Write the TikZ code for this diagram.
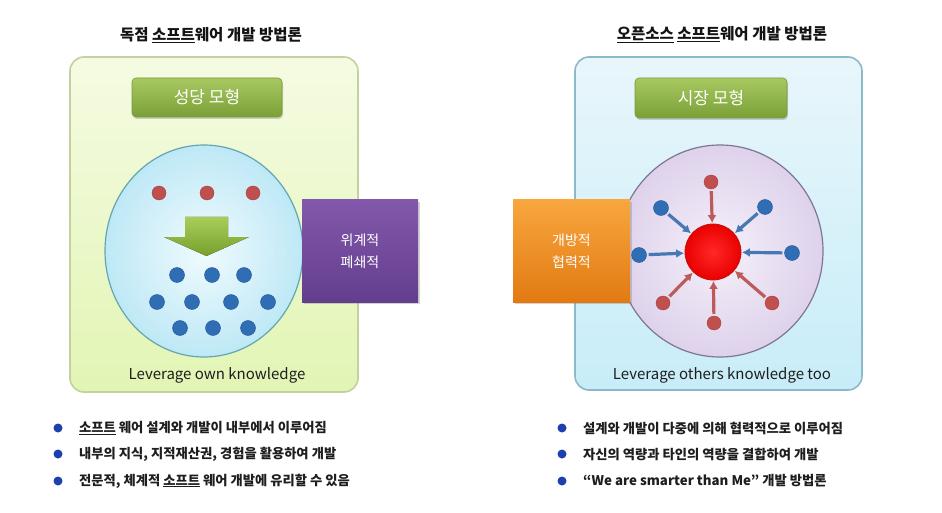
\documentclass[tikz,border=0pt]{standalone}
\usepackage{fontspec}
\setmainfont{Noto Sans CJK KR}
\usetikzlibrary{arrows.meta,shadows,shapes.geometric}
\definecolor{reddot}{HTML}{C0504D}
\definecolor{bluedot}{HTML}{2F6DB5}
\definecolor{bullet}{HTML}{1E3FAE}
\begin{document}
\begin{tikzpicture}[x=1pt,y=-1pt,
  panelL/.style={draw={rgb,255:red,195;green,208;blue,160}, line width=1.6pt, rounded corners=14pt,
    top color={rgb,255:red,245;green,251;blue,226}, bottom color={rgb,255:red,226;green,245;blue,180}},
  panelR/.style={draw={rgb,255:red,140;green,185;blue,200}, line width=1.6pt, rounded corners=14pt,
    top color={rgb,255:red,232;green,246;blue,251}, bottom color={rgb,255:red,200;green,237;blue,248}},
  greenlabel/.style={rounded corners=4pt, draw={rgb,255:red,120;green,155;blue,60}, line width=0.6pt,
    top color={rgb,255:red,168;green,200;blue,96}, bottom color={rgb,255:red,122;green,160;blue,56},
    text=white, font=\fontsize{17}{20}\selectfont, drop shadow={opacity=0.35, shadow xshift=1pt, shadow yshift=-2pt}},
  sidebox/.style={text=white, font=\fontsize{14}{22}\selectfont, align=center,
    drop shadow={opacity=0.35, shadow xshift=2pt, shadow yshift=-2pt}},
  dotR/.style={circle, inner sep=0pt, minimum size=14pt, fill=reddot, draw={rgb,255:red,170;green,60;blue,60}, line width=0.4pt},
  dotB/.style={circle, inner sep=0pt, minimum size=15pt, fill=bluedot, draw={rgb,255:red,35;green,85;blue,150}, line width=0.4pt},
  arrB/.style={draw={rgb,255:red,70;green,120;blue,180}, line width=3.2pt, -{Latex[length=8pt,width=9pt]}, shorten <=2pt, shorten >=0.5pt},
  arrR/.style={draw={rgb,255:red,188;green,92;blue,90}, line width=3.2pt, -{Latex[length=8pt,width=9pt]}, shorten <=2pt, shorten >=0.5pt},
  title/.style={font=\bfseries\fontsize{15.5}{18}\selectfont, text={rgb,255:red,20;green,20;blue,20}},
  caption/.style={font=\fontsize{15}{18}\selectfont, text={rgb,255:red,30;green,30;blue,30}},
  bultext/.style={anchor=west, font=\bfseries\fontsize{13.3}{15}\selectfont, text={rgb,255:red,30;green,30;blue,30}, inner sep=0pt},
  bulletdot/.style={circle, fill=bullet, inner sep=0pt, minimum size=9pt}
]
\useasboundingbox (0,0) rectangle (942,513);
\fill[white] (0,0) rectangle (942,513);

% titles
\node[title] (tl) at (211,35) {독점 \underline{소프트}웨어 개발 방법론};
\node[title] (tr) at (722,35) {\underline{오픈소스} \underline{소프트}웨어 개발 방법론};

% panels
\node[panelL, minimum width=288pt, minimum height=335pt] (pl) at (214,224.5) {};
\node[panelR, minimum width=287pt, minimum height=333pt] (pr) at (718.5,223.5) {};

% green labels
\node[greenlabel, minimum width=150pt, minimum height=39pt] (gl) at (207,97.5) {성당 모형};
\node[greenlabel, minimum width=152pt, minimum height=40pt] (gr) at (711,98) {시장 모형};

% circles
\node[ellipse, draw={rgb,255:red,100;green,165;blue,178}, line width=1.2pt, inner sep=0pt,
  minimum width=198pt, minimum height=212pt,
  inner color={rgb,255:red,240;green,251;blue,254}, outer color={rgb,255:red,190;green,232;blue,246}] (cl) at (204,251) {};
\node[ellipse, draw={rgb,255:red,125;green,118;blue,150}, line width=1.2pt, inner sep=0pt,
  minimum width=206pt, minimum height=212pt,
  inner color={rgb,255:red,245;green,240;blue,250}, outer color={rgb,255:red,222;green,210;blue,235}] (cr) at (720,251) {};

% left content
\node[dotR] (r1) at (159,193) {};
\node[dotR] (r2) at (207,193) {};
\node[dotR] (r3) at (253,193) {};
\fill[top color={rgb,255:red,170;green,205;blue,90}, bottom color={rgb,255:red,118;green,160;blue,45}]
  (185,217) -- (228,217) -- (228,237) -- (249,237) -- (206.5,256) -- (164,237) -- (185,237) -- cycle;
\node[dotB] (b1) at (177,275) {};
\node[dotB] (b2) at (212,275) {};
\node[dotB] (b3) at (244,275) {};
\node[dotB] (b4) at (157,302) {};
\node[dotB] (b5) at (192,302) {};
\node[dotB] (b6) at (231,302) {};
\node[dotB] (b7) at (268,302) {};
\node[dotB] (b8) at (180,328) {};
\node[dotB] (b9) at (213,328) {};
\node[dotB] (b10) at (248,328) {};

% purple box
\node[sidebox, minimum width=116pt, minimum height=102pt,
  top color={rgb,255:red,130;green,88;blue,170}, bottom color={rgb,255:red,100;green,62;blue,142}] (pb) at (360,251) {위계적\\폐쇄적};

% right content
\node[circle, inner sep=0pt, minimum size=56pt, draw={rgb,255:red,190;green,20;blue,20}, line width=0.8pt,
  inner color={rgb,255:red,255;green,40;blue,40}, outer color={rgb,255:red,235;green,0;blue,0}] (big) at (713,252) {};
\node[dotR] (s1) at (711,182) {};
\node[dotB] (s2) at (661,208) {};
\node[dotB] (s3) at (765,207) {};
\node[dotB] (s4) at (639,255) {};
\node[dotB] (s5) at (792,253) {};
\node[dotR] (s6) at (663,303) {};
\node[dotR] (s7) at (772,303) {};
\node[dotR] (s8) at (714,323) {};
\draw[arrR] (s1) -- (big);
\draw[arrB] (s2) -- (big);
\draw[arrB] (s3) -- (big);
\draw[arrB] (s4) -- (big);
\draw[arrB] (s5) -- (big);
\draw[arrR] (s6) -- (big);
\draw[arrR] (s7) -- (big);
\draw[arrR] (s8) -- (big);

% orange box
\node[sidebox, minimum width=117pt, minimum height=102pt,
  top color={rgb,255:red,248;green,166;blue,62}, bottom color={rgb,255:red,226;green,122;blue,18}] (ob) at (571.5,251) {개방적\\협력적};

% captions
\node[caption] (capl) at (217,375) {Leverage own knowledge};
\node[caption] (capr) at (722,375) {Leverage others knowledge too};

% bullets left
\node[bulletdot] (lb1) at (58,428) {};
\node[bulletdot] (lb2) at (58,454) {};
\node[bulletdot] (lb3) at (58,481) {};
\node[bultext] (lt1) at (79,428) {\underline{소프트} 웨어 설계와 개발이 내부에서 이루어짐};
\node[bultext] (lt2) at (79,454) {내부의 지식, 지적재산권, 경험을 활용하여 개발};
\node[bultext] (lt3) at (79,481) {전문적, 체계적 \underline{소프트} 웨어 개발에 유리할 수 있음};

% bullets right
\node[bulletdot] (rb1) at (562,428) {};
\node[bulletdot] (rb2) at (562,454) {};
\node[bulletdot] (rb3) at (562,481) {};
\node[bultext] (rt1) at (583,428) {설계와 개발이 다중에 의해 협력적으로 이루어짐};
\node[bultext] (rt2) at (583,454) {자신의 역량과 타인의 역량을 결합하여 개발};
\node[bultext] (rt3) at (583,481) {“We are smarter than Me” 개발 방법론};
\end{tikzpicture}
\end{document}
